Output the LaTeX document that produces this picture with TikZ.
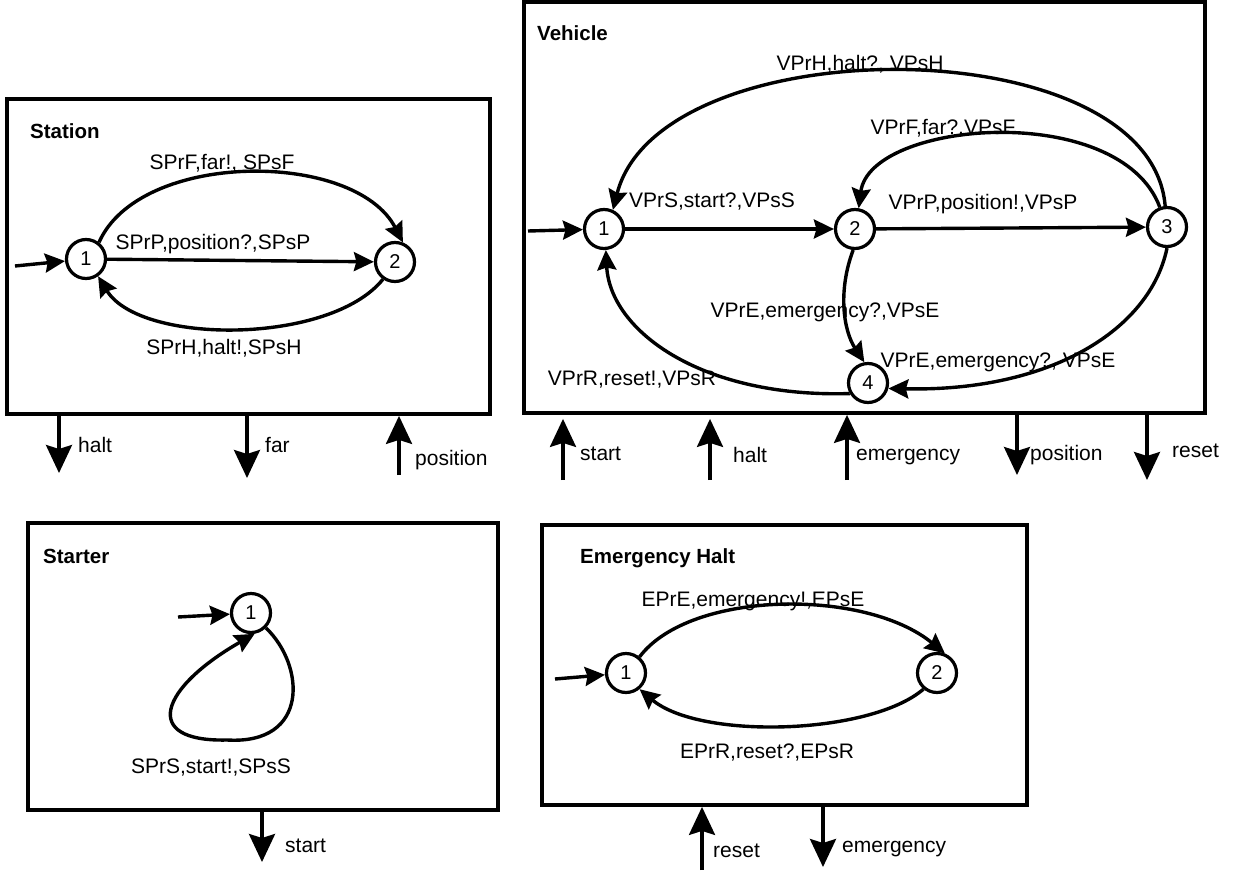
\documentclass[tikz,border=0pt]{standalone}
\usepackage{fontspec}
\setmainfont{Liberation Sans}
\usetikzlibrary{arrows.meta}
\begin{document}
\begin{tikzpicture}[x=1pt,y=-1pt,
  every node/.style={font=\fontsize{21}{25}\selectfont},
  stnode/.style={circle,draw,line width=3.2pt,minimum size=39pt,inner sep=0pt,fill=white,font=\fontsize{20}{24}\selectfont},
  boxframe/.style={draw,line width=3.8pt,inner sep=0pt},
  boxtitle/.style={anchor=west,inner sep=0pt,font=\fontsize{20.5}{24}\selectfont\bfseries},
  transarr/.style={line width=3.4pt,-{Stealth[length=20pt,width=19pt,inset=2.5pt]}},
  portarr/.style={line width=3.4pt,-{Stealth[length=28pt,width=26pt,inset=4pt]}},
  lbl/.style={inner sep=0pt,text height=15pt,text depth=0pt},
  portlbl/.style={lbl,anchor=west}]
\useasboundingbox (0,0) rectangle (1252,875);

% ---------- component frames ----------
\node[boxframe,minimum width=483pt,minimum height=315pt] (station) at (248.5,256.5) {};
\node[boxframe,minimum width=681pt,minimum height=411pt] (vehicle) at (864.5,207.5) {};
\node[boxframe,minimum width=470pt,minimum height=287pt] (starter) at (263,666.5) {};
\node[boxframe,minimum width=485pt,minimum height=280pt] (ehalt) at (784.5,665) {};

\node[boxtitle] at (30,131) {Station};
\node[boxtitle] at (537,33) {Vehicle};
\node[boxtitle] at (43,556) {Starter};
\node[boxtitle] at (580,558) {Emergency Halt};

% ---------- Station ----------
\node[stnode] (s1) at (86,259) {1};
\node[stnode] (s2) at (395,262) {2};
\coordinate (s0) at (15,266);
\draw[transarr] (s0) -- (s1);
\draw[transarr] (s1) -- (s2);
\draw[transarr] (s1.52) .. controls (140,150) and (355,150) .. (s2.68);
\draw[transarr] (s2.235) .. controls (330,345) and (140,345) .. (s1.-55);
\node[lbl] at (222,162) {SPrF,far!, SPsF};
\node[lbl] at (213,242) {SPrP,position?,SPsP};
\node[lbl] at (224,347) {SPrH,halt!,SPsH};

\coordinate (sp1) at (59,473);
\coordinate (sp2) at (247,478);
\coordinate (sp3) at (399,475);
\draw[portarr] (station.south -| sp1) -- (sp1);
\draw[portarr] (station.south -| sp2) -- (sp2);
\draw[portarr] (sp3) -- (station.south -| sp3);
\node[portlbl] at (78,445) {halt};
\node[portlbl] at (265,445) {far};
\node[portlbl] at (415,458) {position};

% ---------- Vehicle ----------
\node[stnode] (v1) at (604,229) {1};
\node[stnode] (v2) at (855,229) {2};
\node[stnode] (v3) at (1167,227) {3};
\node[stnode] (v4) at (868,383) {4};
\coordinate (v0) at (528,231);
\draw[transarr] (v0) -- (v1);
\draw[transarr] (v1) -- (v2);
\draw[transarr] (v2) -- (v3);
\draw[transarr] (v3.95) .. controls (1150,26) and (660,26) .. (v1.65);
\draw[transarr] (v3.110) .. controls (1120,100) and (870,120) .. (v2.80);
\draw[transarr] (v2.265) .. controls (838,290) and (843,330) .. (v4.100);
\draw[transarr] (v3.-90) .. controls (1150,330) and (1050,392) .. (v4.-15);
\draw[transarr] (v4.210) .. controls (700,398) and (610,330) .. (v1.-85);
\node[lbl] at (860,63) {VPrH,halt?, VPsH};
\node[lbl] at (943,127) {VPrF,far?,VPsF};
\node[lbl] at (712,200) {VPrS,start?,VPsS};
\node[lbl] at (983,202) {VPrP,position!,VPsP};
\node[lbl] at (825,310) {VPrE,emergency?,VPsE};
\node[lbl] at (998,360) {VPrE,emergency?, VPsE};
\node[lbl] at (632,378) {VPrR,reset!,VPsR};

\coordinate (vp1) at (563,480);
\coordinate (vp2) at (710,480);
\coordinate (vp3) at (847,480);
\coordinate (vp4) at (1017,475);
\coordinate (vp5) at (1147,480);
\draw[portarr,shorten >=4pt] (vp1) -- (vehicle.south -| vp1);
\draw[portarr,shorten >=4pt] (vp2) -- (vehicle.south -| vp2);
\draw[portarr] (vp3) -- (vehicle.south -| vp3);
\draw[portarr] (vehicle.south -| vp4) -- (vp4);
\draw[portarr] (vehicle.south -| vp5) -- (vp5);
\node[portlbl] at (580,453) {start};
\node[portlbl] at (733,455) {halt};
\node[portlbl] at (856,453) {emergency};
\node[portlbl] at (1030,453) {position};
\node[portlbl] at (1172,450) {reset};

% ---------- Starter ----------
\node[stnode] (t1) at (251,613) {1};
\coordinate (t0) at (178,617);
\draw[transarr] (t0) -- (t1);
\draw[transarr] (t1.-45) .. controls (305,665) and (310,745) .. (227,740)
                          .. controls (140,742) and (160,688) .. (t1.-80);
\node[lbl] at (211,766) {SPrS,start!,SPsS};
\coordinate (tp1) at (262,862);
\draw[portarr] (starter.south -| tp1) -- (tp1);
\node[portlbl] at (285,845) {start};

% ---------- Emergency Halt ----------
\node[stnode] (e1) at (626,673) {1};
\node[stnode] (e2) at (937,673) {2};
\coordinate (e0) at (555,679);
\draw[transarr] (e0) -- (e1);
\draw[transarr] (e1.50) .. controls (690,590) and (865,588) .. (e2.68);
\draw[transarr] (e2.230) .. controls (870,735) and (700,740) .. (e1.-50);
\node[lbl] at (753,599) {EPrE,emergency!,EPsE};
\node[lbl] at (767,751) {EPrR,reset?,EPsR};

\coordinate (ep1) at (702,870);
\coordinate (ep2) at (823,867);
\draw[portarr] (ep1) -- (ehalt.south -| ep1);
\draw[portarr] (ehalt.south -| ep2) -- (ep2);
\node[portlbl] at (713,850) {reset};
\node[portlbl] at (842,845) {emergency};
\end{tikzpicture}
\end{document}
